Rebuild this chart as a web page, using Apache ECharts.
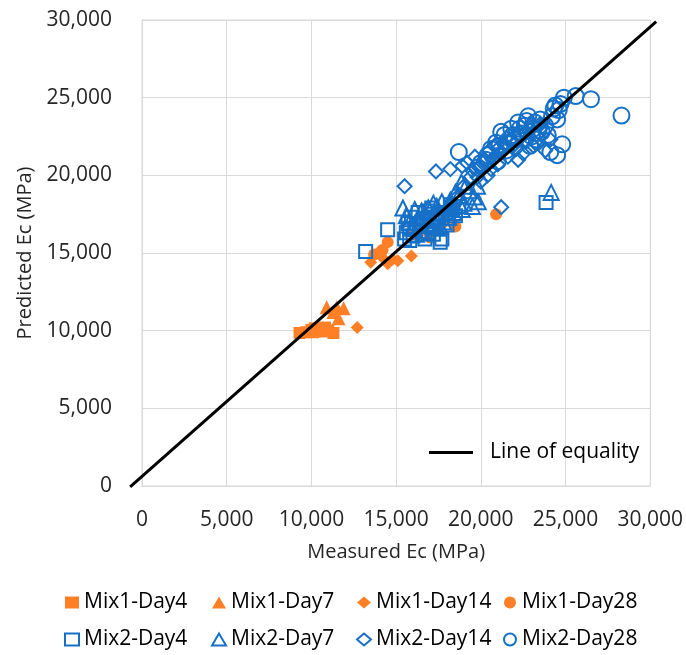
<!DOCTYPE html>
<html>
<head>
<meta charset="utf-8">
<script src="https://cdn.jsdelivr.net/npm/echarts@6/dist/echarts.min.js"></script>
<style>
  html, body { margin: 0; padding: 0; background: #fff; }
  #chart { width: 686px; height: 655px; }
</style>
</head>
<body>
<div id="chart"></div>
<script>
// Measured vs predicted elastic modulus (MPa), [measured, predicted]
const mix1Day4 = [[9300,9850],[9700,9900],[10000,10050],[10200,10150],[10400,10100],[10600,9950],[10800,10200],[11000,10000],[11300,9850],[10100,9900]];
const mix1Day7 = [[10900,11500],[11500,11500],[11900,11450],[11600,10800],[11300,11200]];
const mix1Day14 = [[12700,10200],[13500,14400],[14000,15100],[14200,14700],[14500,14300],[14800,14600],[15100,14500],[15900,14800],[16500,16400],[17800,16900]];
const mix1Day28 = [[13700,14900],[14200,15200],[14500,15700],[16100,16200],[17000,16000],[17500,16600],[18500,16700],[20900,17500]];

const mix2Day4 = [[13200,15100],[14500,16500],[15500,15900],[15600,16300],[15700,16900],[15800,16600],[15800,15800],[16000,16100],[16100,16500],[16200,16900],[16400,16400],[16500,17000],[16600,17200],[16700,15900],[16800,16700],[16900,16300],[16900,17700],[17000,17500],[17100,16600],[17200,16200],[17300,17300],[17400,17000],[17500,17200],[17600,15700],[17700,15900],[17900,17600],[18000,16800],[18100,17200],[18200,18100],[18300,17800],[18500,17400],[15900,17300],[16300,17600],[17100,17900],[18700,18000],[23850,18250]];
const mix2Day7 = [[15400,17900],[15600,17400],[15800,17000],[16000,16600],[16100,17800],[16200,16200],[16300,17200],[16500,17700],[16600,16300],[16800,17300],[16900,17900],[17000,16800],[17200,18200],[17300,16900],[17400,18000],[17500,17600],[17600,16700],[17700,18300],[17800,17000],[18000,17900],[18100,17300],[18200,18400],[18300,18000],[18400,17600],[18500,18900],[18700,18700],[18850,19550],[18900,17800],[19000,18200],[19100,19300],[19300,19000],[19500,18000],[19600,18600],[19800,19300],[19850,18300],[24150,18900]];
const mix2Day14 = [[15500,19300],[17350,20250],[18200,20400],[18300,18100],[18600,18600],[18900,20600],[19000,19300],[19200,20800],[19400,19900],[19500,20300],[19650,21200],[19800,19900],[19900,20500],[20000,19600],[20100,20800],[20200,21000],[20400,20000],[20500,21600],[20600,20400],[20700,21000],[20800,21900],[20900,21300],[21000,20700],[21000,21700],[21200,21500],[21200,17950],[21400,22000],[21500,22400],[21600,21200],[21800,22300],[22000,22000],[22100,21700],[22200,21000],[22300,22600],[22500,21400],[22600,22700],[22700,22200],[22900,22900],[23000,23300],[23100,21900],[23200,22100],[23300,22600],[23500,23300],[23600,23100],[23800,21600],[24100,22300]];
const mix2Day28 = [[18700,21500],[19800,20500],[20000,20800],[20300,21000],[20400,21300],[20600,21700],[20900,22100],[21000,20900],[21100,21900],[21200,22800],[21400,22600],[21500,21600],[21600,22100],[21800,23000],[21900,22600],[22000,22300],[22200,23400],[22300,23000],[22400,22700],[22600,23200],[22700,23500],[22800,23800],[22900,21900],[23000,22500],[23100,23000],[23200,23400],[23300,22300],[23400,22900],[23500,23600],[23600,22800],[23800,23200],[23950,22600],[24100,21500],[24200,23800],[24300,24300],[24400,24500],[24500,23600],[24500,21300],[24600,24200],[24700,24600],[24800,22000],[24900,25000],[25600,25100],[26500,24900],[28300,23850]];

// Line of equality end points
const equalityX = [-700, 30350];
const equalityY = [-60, 29900];

const xTicks = [0, 5000, 10000, 15000, 20000, 25000, 30000];
const yTicks = [0, 5000, 10000, 15000, 20000, 25000, 30000];

const ORANGE = '#FF7F27';
const BLUE = '#1670C8';
const FONT = 'Open Sans';
const TEXT = '#262626';

const fmt = v => v.toLocaleString('en-US');

function filled(name, data, symbol, size) {
  return {
    name, type: 'scatter', data, symbol, symbolSize: size,
    itemStyle: { color: ORANGE, opacity: 1 },
    emphasis: { disabled: true }
  };
}
function hollow(name, data, symbol, size) {
  return {
    name, type: 'scatter', data, symbol, symbolSize: size,
    itemStyle: { color: 'rgba(255,255,255,0)', borderColor: BLUE, borderWidth: 2, opacity: 1 },
    emphasis: { disabled: true }
  };
}

// One legend column per curing age: Mix1 on the first row, Mix2 on the second
const mixNames = [['Mix1-Day4', 'Mix2-Day4'], ['Mix1-Day7', 'Mix2-Day7'], ['Mix1-Day14', 'Mix2-Day14'], ['Mix1-Day28', 'Mix2-Day28']];
const columnLeft = [64, 211, 356, 503];
const columnLegends = mixNames.map((names, i) => ({
  data: names, orient: 'vertical', left: columnLeft[i], top: 592, height: 62,
  padding: 0, itemWidth: 14, itemHeight: 12, itemGap: 16,
  textStyle: { fontFamily: FONT, fontSize: 21, color: '#000' },
  selectedMode: false
}));

const chart = echarts.init(document.getElementById('chart'), null, { renderer: 'canvas' });
chart.setOption({
  animation: false,
  backgroundColor: '#fff',
  grid: { left: 142, right: 33, top: 20, bottom: 169, show: true, borderColor: '#d9d9d9', borderWidth: 1 },
  xAxis: {
    type: 'value', min: xTicks[0], max: xTicks[xTicks.length - 1], interval: xTicks[1] - xTicks[0],
    name: 'Measured Ec (MPa)', nameLocation: 'middle', nameGap: 56,
    nameTextStyle: { fontFamily: FONT, fontSize: 20, color: TEXT },
    axisLine: { show: true, lineStyle: { color: '#d9d9d9' } },
    axisTick: { show: false },
    axisLabel: { fontFamily: FONT, fontSize: 21, color: TEXT, margin: 24, formatter: fmt },
    splitLine: { show: true, lineStyle: { color: '#d9d9d9', width: 1 } }
  },
  yAxis: {
    type: 'value', min: yTicks[0], max: yTicks[yTicks.length - 1], interval: yTicks[1] - yTicks[0],
    name: 'Predicted Ec (MPa)', nameLocation: 'middle', nameGap: 106, nameRotate: 90,
    nameTextStyle: { fontFamily: FONT, fontSize: 20, color: TEXT },
    axisLine: { show: true, lineStyle: { color: '#d9d9d9' } },
    axisTick: { show: false },
    axisLabel: { fontFamily: FONT, fontSize: 21, color: TEXT, margin: 30, formatter: fmt },
    splitLine: { show: true, lineStyle: { color: '#d9d9d9', width: 1 } }
  },
  legend: columnLegends.concat([{
    data: [{ name: 'Line of equality', icon: 'rect' }],
    left: 424, top: 437, itemWidth: 44, itemHeight: 3, itemGap: 0,
    textStyle: { fontFamily: FONT, fontSize: 21, color: '#000', padding: [0, 0, 0, 12] },
    selectedMode: false
  }]),
  series: [
    filled('Mix1-Day4', mix1Day4, 'rect', 12),
    filled('Mix1-Day7', mix1Day7, 'triangle', 14),
    filled('Mix1-Day14', mix1Day14, 'diamond', 13),
    filled('Mix1-Day28', mix1Day28, 'circle', 12),
    hollow('Mix2-Day4', mix2Day4, 'rect', 13),
    hollow('Mix2-Day7', mix2Day7, 'triangle', 15),
    hollow('Mix2-Day14', mix2Day14, 'diamond', 14),
    hollow('Mix2-Day28', mix2Day28, 'circle', 16),
    {
      // drawn as a custom polyline so it can run slightly past the plot frame
      name: 'Line of equality', type: 'custom', clip: false, z: 5,
      data: [[equalityX[0], equalityY[0], equalityX[1], equalityY[1]]],
      encode: { x: [0, 2], y: [1, 3] },
      itemStyle: { color: '#000' },
      renderItem: (params, api) => {
        const p0 = api.coord([api.value(0), api.value(1)]);
        const p1 = api.coord([api.value(2), api.value(3)]);
        return {
          type: 'line',
          shape: { x1: p0[0], y1: p0[1], x2: p1[0], y2: p1[1] },
          style: { stroke: '#000', lineWidth: 3 }
        };
      },
      emphasis: { disabled: true }
    }
  ]
});
</script>
</body>
</html>
